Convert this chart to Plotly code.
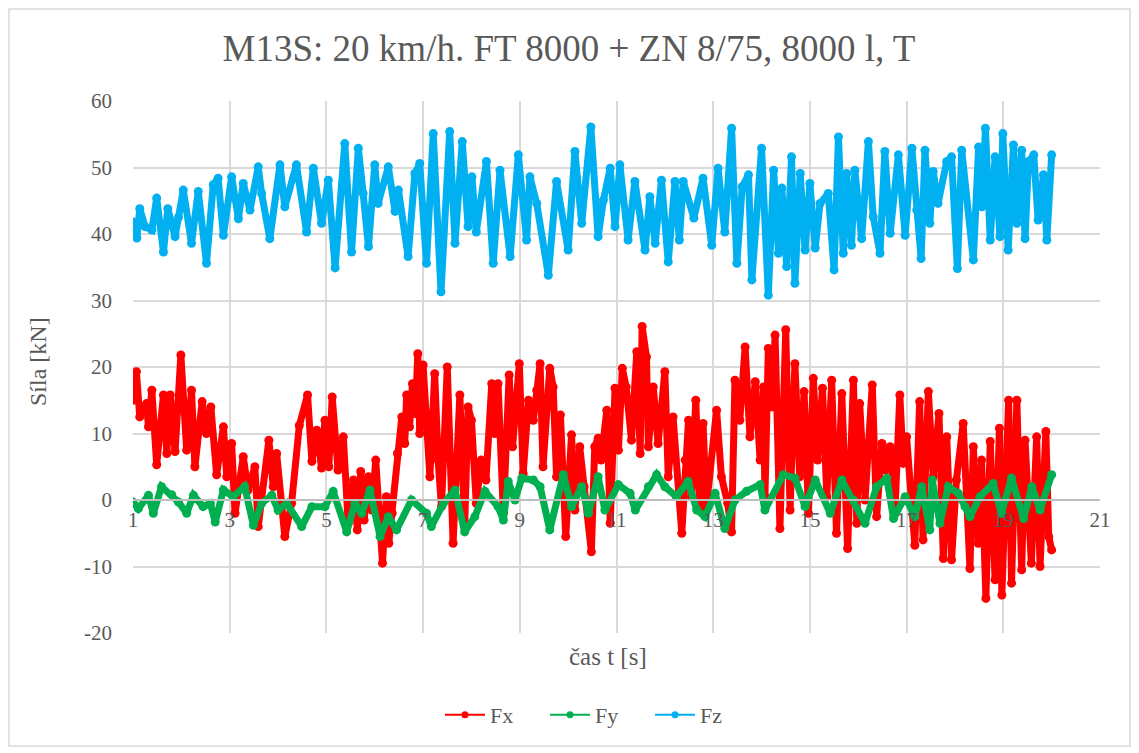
import plotly.graph_objects as go

# ---------------- data ----------------
fz_t = [1.00, 1.08, 1.14, 1.25, 1.39, 1.49, 1.63, 1.72, 1.87, 1.94, 2.04, 2.21, 2.35, 2.52, 2.66, 2.76,
        2.87, 3.04, 3.18, 3.28, 3.42, 3.59, 3.66, 3.83, 4.04, 4.14, 4.38, 4.59, 4.73, 4.90, 5.04, 5.18,
        5.38, 5.52, 5.66, 5.76, 5.87, 6.00, 6.07, 6.28, 6.42, 6.49, 6.69, 6.83, 6.93, 7.07, 7.21, 7.37,
        7.55, 7.66, 7.81, 7.93, 8.01, 8.10, 8.31, 8.45, 8.59, 8.80, 8.97, 9.14, 9.21, 9.35, 9.59, 9.76,
        10.00, 10.14, 10.28, 10.47, 10.62, 10.73, 10.87, 10.97, 11.07, 11.24, 11.38, 11.59, 11.69, 11.80,
        11.93, 12.07, 12.21, 12.30, 12.38, 12.60, 12.79, 12.97, 13.10, 13.24, 13.38, 13.49, 13.60, 13.73,
        13.80, 14.00, 14.14, 14.25, 14.35, 14.42, 14.52, 14.62, 14.69, 14.80, 14.90, 15.00, 15.11, 15.21,
        15.38, 15.50, 15.59, 15.69, 15.76, 15.86, 15.93, 16.07, 16.21, 16.31, 16.45, 16.55, 16.66, 16.83,
        16.97, 17.11, 17.21, 17.30, 17.38, 17.48, 17.55, 17.65, 17.83, 17.93, 18.05, 18.14, 18.38, 18.49,
        18.56, 18.63, 18.73, 18.83, 18.93, 18.99, 19.10, 19.21, 19.28, 19.38, 19.45, 19.52, 19.63, 19.72,
        19.83, 19.90, 20.00]
fz_v = [41.8, 39.4, 43.8, 41.1, 40.6, 45.4, 37.3, 43.8, 39.6, 42.5, 46.6, 38.6, 46.4, 35.6, 47.4, 48.4,
        39.8, 48.6, 42.3, 47.6, 43.6, 50.1, 46.1, 39.3, 50.4, 44.1, 50.4, 40.3, 49.9, 41.6, 48.1, 34.9,
        53.6, 37.3, 52.9, 46.1, 38.1, 50.4, 44.6, 50.1, 43.4, 46.6, 36.6, 49.1, 50.6, 35.6, 55.1, 31.3,
        55.4, 38.6, 53.9, 41.1, 48.6, 40.3, 50.9, 35.6, 49.6, 36.6, 51.9, 39.1, 48.6, 44.6, 33.8, 47.9,
        37.6, 52.4, 41.6, 56.1, 39.6, 45.1, 49.9, 41.1, 50.4, 39.1, 47.9, 37.6, 45.6, 38.6,
        48.1, 35.8, 47.9, 39.1, 47.9, 42.4, 48.4, 38.3, 49.9, 40.3, 55.9, 35.6, 47.1, 48.9,
        33.1, 52.9, 30.8, 49.6, 37.1, 46.9, 35.1, 51.6, 32.6, 49.1, 37.6, 47.6, 37.9, 44.6,
        46.1, 34.6, 54.6, 37.1, 49.1, 38.3, 49.6, 39.3, 53.9, 42.6, 37.1, 52.4, 40.1, 51.9,
        39.8, 52.9, 43.6, 36.3, 52.6, 41.6, 49.4, 44.6, 50.9, 51.6, 34.8, 52.6, 36.1, 53.1,
        44.1, 55.9, 39.1, 51.6, 39.6, 55.1, 37.6, 53.4, 41.6, 52.6, 39.3, 50.9, 51.9, 42.1,
        48.9, 39.1, 51.9]

fx_t = [1.00, 1.07, 1.14, 1.28, 1.32, 1.39, 1.49, 1.63, 1.70, 1.77, 1.87, 1.99, 2.11, 2.21, 2.28, 2.43,
        2.52, 2.61, 2.73, 2.87, 2.94, 3.04, 3.11, 3.28, 3.38, 3.52, 3.59, 3.81, 3.90, 3.97, 4.14, 4.28,
        4.44, 4.61, 4.70, 4.80, 4.90, 4.97, 5.05, 5.12, 5.24, 5.35, 5.45, 5.56, 5.64, 5.71, 5.78, 5.87,
        5.94, 6.02, 6.16, 6.24, 6.29, 6.36, 6.47, 6.56, 6.62, 6.66, 6.72, 6.78, 6.84, 6.89, 6.93, 7.00,
        7.14, 7.24, 7.31, 7.38, 7.50, 7.62, 7.76, 7.86, 7.93, 8.00, 8.10, 8.20, 8.30, 8.42, 8.48, 8.55,
        8.66, 8.78, 8.85, 8.99, 9.07, 9.18, 9.28, 9.35, 9.42, 9.48, 9.62, 9.69, 9.76, 9.84, 9.95, 10.07,
        10.14, 10.24, 10.33, 10.48, 10.55, 10.62, 10.68, 10.80, 10.87, 10.97, 11.04, 11.12, 11.20, 11.31,
        11.42, 11.49, 11.53, 11.62, 11.66, 11.76, 11.86, 12.00, 12.07, 12.17, 12.35, 12.42, 12.49, 12.55,
        12.64, 12.72, 12.79, 12.86, 13.07, 13.17, 13.30, 13.38, 13.45, 13.55, 13.66, 13.76, 13.87, 13.97,
        14.04, 14.07, 14.14, 14.22, 14.28, 14.38, 14.50, 14.59, 14.69, 14.79, 14.88, 14.97, 15.07, 15.16,
        15.26, 15.35, 15.45, 15.55, 15.66, 15.78, 15.90, 15.97, 16.03, 16.14, 16.29, 16.38, 16.49, 16.56,
        16.66, 16.76, 16.86, 16.93, 17.00, 17.17, 17.27, 17.34, 17.45, 17.55, 17.67, 17.76, 17.83, 17.93,
        18.03, 18.17, 18.31, 18.38, 18.48, 18.55, 18.64, 18.73, 18.83, 18.92, 18.97, 19.11, 19.17, 19.28,
        19.38, 19.45, 19.58, 19.69, 19.76, 19.88, 19.94, 20.00]
fx_v = [15.0, 19.3, 12.5, 14.5, 11.0, 16.5, 5.3, 15.8, 7.0, 15.8, 7.3, 21.8, 7.5, 16.5, 5.0, 14.8,
        10.0, 14.0, 3.8, 11.0, 3.5, 8.5, -2.0, 6.5, 1.5, 5.0, -4.0, 9.0, 2.0, 7.0, -5.5, -0.5,
        11.2, 15.8, 5.8, 10.5, 4.8, 12.0, 5.0, 15.5, 4.5, 9.5, -3.5, 3.0, -4.5, 4.3, -3.0, 3.5,
        -1.5, 6.0, -9.5, 0.5, -6.5, -2.0, 7.0, 12.5, 8.5, 15.8, 11.0, 17.5, 13.0, 22.0, 10.0, 20.3,
        3.5, 19.0, 6.0, -1.0, 20.0, -6.5, 15.8, -4.0, 14.0, 12.0, -0.5, 6.0, 3.0, 17.5, 10.0, 17.5,
        -2.0, 18.8, 8.0, 20.5, 4.0, 15.0, 12.0, 16.5, 20.5, 5.0, 19.8, 17.0, 3.5, 12.8, -5.5, 9.8,
        -1.5, 8.0, 2.0, -7.8, 8.0, 9.3, 6.0, 13.5, -3.5, 16.8, 7.5, 19.8, 17.0, 9.0,
        22.3, 7.0, 26.1, 21.5, 8.0, 17.0, 8.5, 19.3, 3.5, 12.5, -5.0, 6.0, 12.0, 0.5,
        15.0, -1.5, 11.5, -1.0, 13.5, 3.5, -0.5, -4.8, 18.0, 12.0, 23.0, 9.5, 17.8, 6.0,
        17.0, 0.5, 22.8, 14.0, 24.8, -4.3, 25.6, -1.5, 20.5, 3.5, 16.3, -2.0, 18.3, 6.0,
        16.8, 0.5, 18.0, -5.0, 16.0, -7.3, 18.0, -3.5, 14.5, 0.0, 17.3, -2.5, 8.5, 4.5,
        8.0, -1.5, 15.8, 5.5, 9.5, -6.8, 14.8, -6.0, 16.3, 3.5, 13.0, -8.8, 9.5, -9.0,
        3.0, 11.5, -10.3, 8.0, -6.5, 6.0, -14.8, 8.8, -12.0, 10.8, -14.3, 15.0, -12.5, 15.0,
        -10.5, 9.0, -9.5, 9.5, -10.0, 10.3, -5.5, -7.5]

fy_t = [1.00, 1.11, 1.32, 1.42, 1.59, 1.80, 1.94, 2.11, 2.25, 2.45, 2.60, 2.70, 2.87, 3.07, 3.31, 3.49,
        3.66, 3.87, 4.00, 4.18, 4.49, 4.70, 4.97, 5.14, 5.42, 5.59, 5.73, 5.90, 6.11, 6.28, 6.45, 6.76,
        7.07, 7.17, 7.42, 7.66, 7.86, 8.07, 8.28, 8.55, 8.66, 8.76, 8.90, 9.04, 9.28, 9.42, 9.62, 9.90,
        10.07, 10.28, 10.42, 10.62, 10.76, 11.04, 11.28, 11.39, 11.66, 11.83, 12.00, 12.24, 12.48, 12.66,
        12.83, 13.04, 13.24, 13.45, 13.69, 13.97, 14.07, 14.45, 14.69, 14.90, 15.11, 15.42, 15.66, 15.90,
        16.14, 16.38, 16.59, 16.73, 16.97, 17.17, 17.31, 17.48, 17.53, 17.69, 17.86, 18.07, 18.21, 18.31,
        18.52, 18.79, 18.96, 19.17, 19.42, 19.59, 19.76, 20.00]
fy_v = [-0.3, -1.3, 0.7, -2.0, 2.0, 0.8, -0.3, -2.0, 0.7, -1.0, -0.5, -3.3, 1.5, 0.5, 2.0, -3.8,
        -0.5, 0.7, -1.5, -0.5, -4.0, -1.0, -1.0, 1.3, -4.8, -0.5, -2.0, 1.5, -5.5, -2.5, -4.5, 0.0,
        -2.0, -4.0, -0.5, 1.5, -4.8, -2.5, 1.3, -1.0, -3.0, 2.8, 0.0, 3.3, 3.0, 2.0, -4.5, 3.8,
        -1.0, 2.0, -2.0, 3.5, -1.5, 2.3, 1.0, -1.5, 2.0, 3.8, 2.0, 0.5, 2.8, -1.5,
        -2.5, 1.0, -4.3, 0.0, 1.3, 2.3, -1.5, 3.8, 3.3, -1.0, 3.0, -2.0, 3.0, 0.0,
        -3.5, 2.0, 3.3, -2.8, 0.5, -2.5, 2.0, -4.5, 3.0, -3.5, 2.0, 1.0, -1.0, -2.5,
        0.5, 2.5, -2.0, 3.3, -2.8, 2.0, -1.5, 3.8]

series_names = ["Fx", "Fy", "Fz"]
series_colors = ["#FF0000", "#00B050", "#00B0F0"]

x_ticks = [1, 3, 5, 7, 9, 11, 13, 15, 17, 19, 21]
y_ticks = [-20, -10, 0, 10, 20, 30, 40, 50, 60]

title_text = "M13S: 20 km/h. FT 8000 + ZN 8/75, 8000 l, T"
x_title = "čas t [s]"
y_title = "Síla [kN]"

# ---------------- figure ----------------
FONT = "Liberation Serif"
GREY = "#595959"

# page is shown with an 8px body margin, so figure coords = reference coords - 8
L, T, R, B = 125, 93, 1092, 625
PW, PH = R - L, B - T

fig = go.Figure()
data = [(fx_t, fx_v), (fy_t, fy_v), (fz_t, fz_v)]
for (tt, vv), name, col in zip(data, series_names, series_colors):
    fig.add_trace(go.Scatter(
        x=tt, y=vv, mode="lines+markers", name=name, showlegend=False,
        line=dict(color=col, width=7),
        marker=dict(color=col, size=9),
    ))
# legend entries (no data)
for name, col in zip(series_names, series_colors):
    fig.add_trace(go.Scatter(
        x=[None], y=[None], mode="lines+markers", name=name,
        line=dict(color=col, width=2), marker=dict(color=col, size=7),
    ))

fig.update_layout(
    width=1139, height=753,
    margin=dict(l=L, r=1139 - R, t=T, b=753 - B),
    paper_bgcolor="white", plot_bgcolor="white",
    font=dict(family=FONT, color=GREY, size=21),
    title=dict(text=title_text, x=(569 - 8) / 1139, xanchor="center", y=1 - 40 / 753, yanchor="middle",
               font=dict(family=FONT, size=37, color=GREY)),
    showlegend=True,
    legend=dict(orientation="h", x=(432 - L) / PW, xanchor="left", y=(B - (715 - 8)) / PH,
                yanchor="middle", font=dict(family=FONT, size=22, color=GREY), itemwidth=40,
                entrywidth=50, entrywidthmode="pixels"),
    xaxis=dict(range=[1, 21], tickvals=x_ticks, ticktext=[str(v) for v in x_ticks],
               showgrid=True, gridcolor="#D9D9D9", gridwidth=1.5,
               zeroline=False, showline=True, linecolor="#BFBFBF", linewidth=1.5,
               anchor="free", position=0.25, ticks="", ticklabelstandoff=1,
               tickfont=dict(family=FONT, size=21, color=GREY)),
    yaxis=dict(range=[-20, 60], tickvals=y_ticks, ticktext=[str(v) for v in y_ticks],
               showgrid=True, gridcolor="#D9D9D9", gridwidth=1.5, zeroline=False,
               ticks="", ticklabelstandoff=20,
               tickfont=dict(family=FONT, size=21, color=GREY)),
    annotations=[
        dict(text=x_title, xref="paper", yref="paper", x=(608 - 8 - L) / PW, y=(B - (657 - 8)) / PH,
             xanchor="center", yanchor="middle", showarrow=False,
             font=dict(family=FONT, size=25, color=GREY)),
        dict(text=y_title, xref="paper", yref="paper", x=(38 - 8 - L) / PW, y=(B - (362 - 8)) / PH,
             xanchor="center", yanchor="middle", showarrow=False, textangle=-90,
             font=dict(family=FONT, size=24, color=GREY)),
    ],
    shapes=[
        dict(type="rect", xref="paper", yref="paper",
             x0=(1 - L) / PW, x1=(1122 - L) / PW,
             y0=(B - 738) / PH, y1=(B - 1) / PH,
             line=dict(color="#D9D9D9", width=1.5), fillcolor="rgba(0,0,0,0)", layer="below"),
    ],
)

fig.write_html("out.html")
